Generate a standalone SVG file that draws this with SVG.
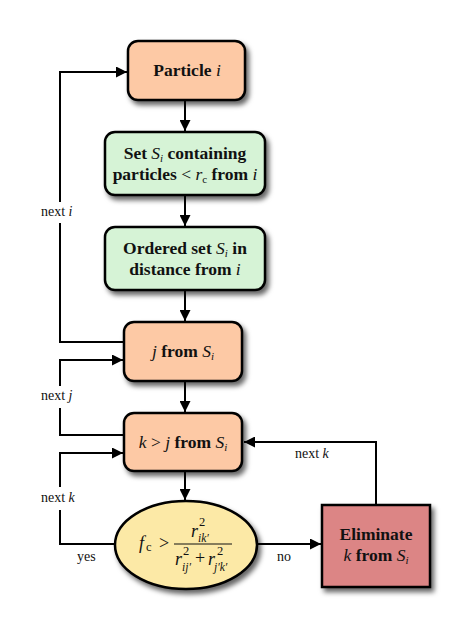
<svg xmlns="http://www.w3.org/2000/svg" width="463" height="640" viewBox="0 0 463 640">
<style>
.node{stroke:#000;stroke-width:2.5;filter:url(#sh)}
.peach{fill:#fdc9a5}
.green{fill:#d6f3d6}
.yellow{fill:#fce9a6}
.red{fill:#dc8585}
.lbl{font-family:"Liberation Serif",serif;font-size:17.5px;font-weight:bold;fill:#111;text-anchor:middle}
.it{font-style:italic;font-weight:normal}
.rm{font-weight:normal}
.sub{font-size:11px}
.small{font-family:"Liberation Serif",serif;font-size:14px;fill:#111}
.mi{font-family:"Liberation Serif",serif;font-size:18px;font-style:italic;fill:#111}
.mn{font-family:"Liberation Serif",serif;font-size:18px;font-style:normal;fill:#111}
.ms{font-family:"Liberation Serif",serif;font-size:11.5px;font-style:italic;fill:#111}
.mt{font-family:"Liberation Serif",serif;font-size:12.5px;font-style:normal;fill:#111}
.conn path{fill:none;stroke:#000;stroke-width:2}
</style>
<defs>
<filter id="sh" x="-20%" y="-20%" width="150%" height="160%">
<feDropShadow dx="3" dy="4" stdDeviation="2.5" flood-color="#000" flood-opacity="0.6"/>
</filter>
<marker id="ah" viewBox="0 0 11 11" refX="11" refY="5.5" markerWidth="11" markerHeight="11" markerUnits="userSpaceOnUse" orient="auto">
<path d="M0,0 L11,5.5 L0,11 z" fill="#000"/>
</marker>
</defs>

<g id="connectors" class="conn">
<path d="M185,100 V131" marker-end="url(#ah)"/>
<path d="M185,195 V226" marker-end="url(#ah)"/>
<path d="M185,290 V321" marker-end="url(#ah)"/>
<path d="M185,381 V412" marker-end="url(#ah)"/>
<path d="M185,471 V500" marker-end="url(#ah)"/>
<path d="M124,342 H60 V223"/>
<path d="M60,202 V72 H127" marker-end="url(#ah)"/>
<path d="M124,435 H60 V408"/>
<path d="M60,386 V360 H123" marker-end="url(#ah)"/>
<path d="M115,544 H60 V510"/>
<path d="M60,487 V453 H123" marker-end="url(#ah)"/>
<path d="M257,544 H321" marker-end="url(#ah)"/>
<path d="M376,505 V442 H244" marker-end="url(#ah)"/>
</g>

<g id="labels">
<text class="small" x="41" y="216">next <tspan font-style="italic">i</tspan></text>
<text class="small" x="41" y="400">next <tspan font-style="italic">j</tspan></text>
<text class="small" x="41" y="502">next <tspan font-style="italic">k</tspan></text>
<text class="small" x="295" y="458">next <tspan font-style="italic">k</tspan></text>
<text class="small" x="77" y="561">yes</text>
<text class="small" x="277" y="561">no</text>
</g>

<g id="particle-i">
<rect class="node peach" x="128" y="41" width="117" height="59" rx="10"/>
<text class="lbl" x="187" y="76">Particle <tspan class="it">i</tspan></text>
</g>

<g id="set-si">
<rect class="node green" x="105" y="132" width="160" height="63" rx="10"/>
<text class="lbl" x="185" y="159">Set <tspan class="it">S</tspan><tspan class="it sub" dy="3">i</tspan><tspan dy="-3"> containing</tspan></text>
<text class="lbl" x="185" y="180">particles <tspan class="rm">&lt;</tspan> <tspan class="it">r</tspan><tspan class="rm sub" dy="3">c</tspan><tspan dy="-3"> from </tspan><tspan class="it">i</tspan></text>
</g>

<g id="ordered-set">
<rect class="node green" x="105" y="227" width="160" height="63" rx="10"/>
<text class="lbl" x="185" y="254">Ordered set <tspan class="it">S</tspan><tspan class="it sub" dy="3">i</tspan><tspan dy="-3"> in</tspan></text>
<text class="lbl" x="185" y="275">distance from <tspan class="it">i</tspan></text>
</g>

<g id="j-from-si">
<rect class="node peach" x="124" y="322" width="118" height="59" rx="10"/>
<text class="lbl" x="183" y="357"><tspan class="it">j</tspan> from <tspan class="it">S</tspan><tspan class="it sub" dy="3">i</tspan></text>
</g>

<g id="k-from-si">
<rect class="node peach" x="124" y="413" width="118" height="58" rx="10"/>
<text class="lbl" x="183" y="448"><tspan class="it">k</tspan><tspan class="rm"> &gt; </tspan><tspan class="it">j</tspan> from <tspan class="it">S</tspan><tspan class="it sub" dy="3">i</tspan></text>
</g>

<g id="condition">
<ellipse class="node yellow" cx="186" cy="545" rx="71" ry="44"/>
<text class="mi" x="139" y="549">f</text>
<text class="mt" x="146" y="551">c</text>
<text class="mn" x="159" y="549">&gt;</text>
<line x1="174" y1="544" x2="232" y2="544" stroke="#111" stroke-width="1"/>
<text class="mi" x="191" y="537">r</text>
<text class="mt" x="199" y="526">2</text>
<text class="ms" x="198" y="542">ik′</text>
<text class="mi" x="175" y="565">r</text>
<text class="mt" x="183" y="555">2</text>
<text class="ms" x="182" y="571">ij′</text>
<text class="mn" x="195" y="564">+</text>
<text class="mi" x="208" y="565">r</text>
<text class="mt" x="217" y="555">2</text>
<text class="ms" x="214" y="571">j′k′</text>
</g>

<g id="eliminate">
<rect class="node red" x="322" y="505" width="108" height="82"/>
<text class="lbl" x="376" y="540">Eliminate</text>
<text class="lbl" x="376" y="561"><tspan class="it">k</tspan> from <tspan class="it">S</tspan><tspan class="it sub" dy="3">i</tspan></text>
</g>
</svg>
